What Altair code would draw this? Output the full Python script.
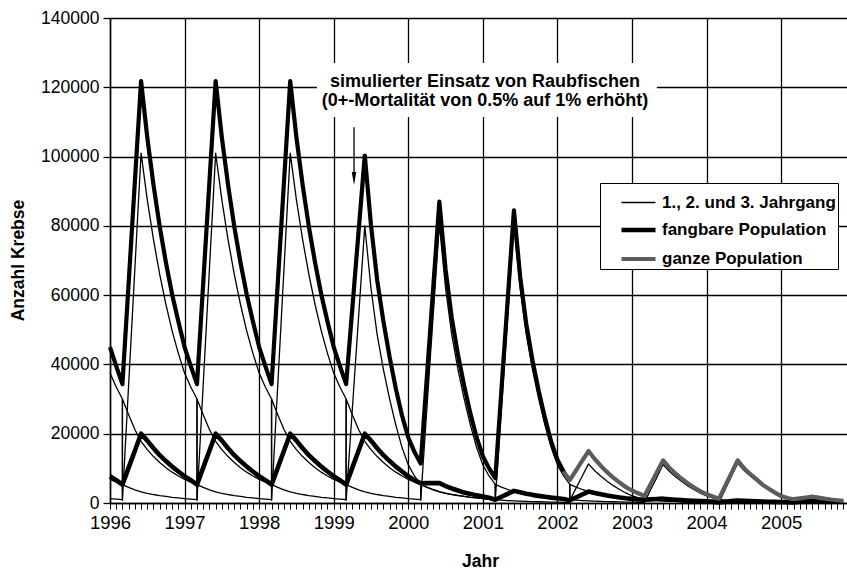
import altair as alt
import pandas as pd

FONT = "Liberation Sans"
SERIEN = ["1., 2. und 3. Jahrgang", "fangbare Population", "ganze Population"]

# Monatswerte Jan 1996 .. Nov 2005 (Index 0..118), im Maerz der Wert nach dem Jahrgangswechsel
jahrgang1 = [
    37500, 33500, 800, 34200, 67600, 101000, 87500, 76000, 66000, 57300, 49700, 43200,   # 1996
    37500, 33500, 800, 34200, 67600, 101000, 87500, 76000, 66000, 57300, 49700, 43200,   # 1997
    37500, 33500, 800, 34200, 67600, 101000, 87500, 76000, 66000, 57300, 49700, 43200,   # 1998
    37500, 33500, 800, 27200, 53600, 80000, 62000, 48500, 38500, 30000, 22500, 16000,    # 1999
    11000, 7800, 800, 27500, 54000, 80500, 62000, 48500, 38500, 30000, 22500, 16000,     # 2000
    11000, 7800, 800, 27500, 54000, 80500, 62000, 48500, 38500, 30000, 22500, 16000,     # 2001
    11000, 7800, 800, 4300, 7800, 11300, 9300, 7700, 6300, 5000, 3900, 2900,             # 2002
    2100, 1500, 100, 3800, 7400, 11100, 9150, 7550, 6200, 4950, 3850, 2850,              # 2003
    2050, 1450, 100, 3900, 7700, 11500, 9450, 7850, 6450, 5150, 4000, 3000,              # 2004
    2150, 1500, 50, 500, 950, 1400, 1150, 950, 780, 620, 480,                            # 2005
]
jahrgang1_maerz_vor = [30000, 30000, 30000, 30000, 5400, 5400, 5400, 1000, 950, 1000]

jahrgang2 = [
    6800, 6000, 30000, 25500, 21200, 17800, 15400, 13400, 11700, 10200, 8900, 7800,      # 1996
    6800, 6000, 30000, 25500, 21200, 17800, 15400, 13400, 11700, 10200, 8900, 7800,      # 1997
    6800, 6000, 30000, 25500, 21200, 17800, 15400, 13400, 11700, 10200, 8900, 7800,      # 1998
    6800, 6000, 30000, 25500, 21200, 17800, 15400, 13400, 11700, 10200, 8900, 7800,      # 1999
    6800, 6000, 5400, 4600, 3900, 3300, 2850, 2500, 2200, 1900, 1650, 1450,              # 2000
    1250, 1100, 5400, 4600, 3900, 3300, 2850, 2500, 2200, 1900, 1650, 1450,              # 2001
    1250, 1100, 5400, 4600, 3900, 3300, 2850, 2500, 2200, 1900, 1650, 1450,              # 2002
    1250, 1100, 1000, 860, 740, 640, 550, 470, 410, 350, 300, 260,                       # 2003
    225, 195, 950, 820, 710, 620, 540, 470, 410, 360, 310, 270,                          # 2004
    235, 205, 1000, 860, 740, 650, 560, 480, 420, 360, 310,                              # 2005
]
jahrgang2_maerz_vor = [5300, 5300, 5300, 5300, 5300, 950, 950, 950, 170, 180]

jahrgang3 = [
    1250, 1100, 5300, 4500, 3800, 3200, 2800, 2450, 2150, 1900, 1650, 1450,              # 1996
    1250, 1100, 5300, 4500, 3800, 3200, 2800, 2450, 2150, 1900, 1650, 1450,              # 1997
    1250, 1100, 5300, 4500, 3800, 3200, 2800, 2450, 2150, 1900, 1650, 1450,              # 1998
    1250, 1100, 5300, 4500, 3800, 3200, 2800, 2450, 2150, 1900, 1650, 1450,              # 1999
    1250, 1100, 5300, 4500, 3800, 3200, 2800, 2450, 2150, 1900, 1650, 1450,              # 2000
    1250, 1100, 950, 820, 710, 620, 540, 470, 410, 360, 310, 270,                        # 2001
    235, 205, 950, 820, 710, 620, 540, 470, 410, 360, 310, 270,                          # 2002
    235, 205, 950, 820, 710, 620, 540, 470, 410, 360, 310, 270,                          # 2003
    235, 205, 170, 150, 130, 110, 95, 80, 70, 60, 52, 45,                                # 2004
    40, 35, 180, 155, 135, 120, 100, 88, 76, 66, 57,                                     # 2005
]
jahrgang3_maerz_vor = [950, 950, 950, 950, 950, 950, 180, 180, 180, 30]

ganze = [
    45000, 39500, 34300, 63500, 92700, 121800, 105500, 91800, 79800, 69400, 60200, 52400,  # 1996
    45000, 39500, 34300, 63500, 92700, 121800, 105500, 91800, 79800, 69400, 60200, 52400,  # 1997
    45000, 39500, 34300, 63500, 92700, 121800, 105500, 91800, 79800, 69400, 60200, 52400,  # 1998
    45000, 39500, 34300, 56300, 78300, 100300, 80200, 64300, 52400, 42100, 33000, 25200,   # 1999
    18900, 14700, 11400, 36600, 61800, 87000, 67500, 53400, 42800, 33800, 25800, 18900,    # 2000
    13500, 10000, 7150, 32900, 58700, 84500, 65400, 51500, 41100, 32300, 24500, 17700,     # 2001
    12500, 9100, 6600, 9400, 12200, 15000, 12700, 10700, 8900, 7300, 5900, 4600,           # 2002
    3600, 2800, 2050, 5450, 8900, 12300, 10200, 8500, 7000, 5650, 4450, 3400,              # 2003
    2500, 1850, 1250, 4900, 8600, 12300, 10100, 8400, 6900, 5300, 4100, 3000,              # 2004
    2000, 1450, 1100, 1350, 1600, 1850, 1550, 1250, 1000, 800, 600,                        # 2005
]

fangbare = [
    7700, 6600, 5300, 10200, 15100, 20000, 18000, 15800, 13800, 12100, 10500, 9100,      # 1996
    7700, 6600, 5300, 10200, 15100, 20000, 18000, 15800, 13800, 12100, 10500, 9100,      # 1997
    7700, 6600, 5300, 10200, 15100, 20000, 18000, 15800, 13800, 12100, 10500, 9100,      # 1998
    7700, 6600, 5300, 10200, 15100, 20000, 18000, 15800, 13800, 12100, 10500, 9100,      # 1999
    7700, 6600, 5700, 5750, 5750, 5750, 4900, 4200, 3600, 3000, 2600, 2200,              # 2000
    1900, 1500, 950, 1800, 2650, 3500, 3100, 2700, 2350, 2050, 1800, 1550,               # 2001
    1350, 1150, 800, 1600, 2450, 3300, 2900, 2500, 2150, 1850, 1600, 1350,               # 2002
    1200, 1050, 950, 1050, 1150, 1250, 1090, 940, 820, 710, 610, 530,                    # 2003
    460, 400, 170, 350, 550, 730, 635, 550, 480, 420, 360, 315,                          # 2004
    275, 240, 180, 350, 550, 770, 670, 580, 500, 430, 370,                               # 2005
]

# ganze Population: bis Feb 2002 schwarz gedruckt, danach grau
GRAU_AB = 73

annotation_zeilen = ["simulierter Einsatz von Raubfischen", "(0+-Mortalität von 0.5% auf 1% erhöht)"]


def zeilen(werte, serie, linie, maerz_vor=None, von=0, bis=None):
    out = []
    for m, v in enumerate(werte):
        if m < von or (bis is not None and m > bis):
            continue
        if maerz_vor is not None and m % 12 == 2:
            out.append({"t": m, "wert": maerz_vor[m // 12], "serie": serie, "linie": linie, "ord": 2 * m})
        out.append({"t": m, "wert": v, "serie": serie, "linie": linie, "ord": 2 * m + 1})
    return out


rows = []
rows += zeilen(jahrgang1, SERIEN[0], "j1", jahrgang1_maerz_vor)
rows += zeilen(jahrgang2, SERIEN[0], "j2", jahrgang2_maerz_vor)
rows += zeilen(jahrgang3, SERIEN[0], "j3", jahrgang3_maerz_vor)
rows += zeilen(fangbare, SERIEN[1], "fang")
rows += zeilen(ganze, SERIEN[2], "ganz", von=GRAU_AB)
df = pd.DataFrame(rows)
df_schwarz = pd.DataFrame(zeilen(ganze, SERIEN[2], "ganz_s", bis=GRAU_AB))

x_achse = alt.Axis(
    values=list(range(0, 119)), tickCount=200,
    labelExpr="datum.value % 12 === 0 ? '' + (1996 + datum.value / 12) : ''",
    labelOverlap=False, labelFlush=False,
    labelFont=FONT, labelFontSize=18.5, labelColor="black", labelPadding=4,
    tickSize=6, tickColor="black", tickWidth=1,
    domainColor="black", domainWidth=1.5,
    grid=True, gridColor="black", gridWidth=1.3,
    gridOpacity={"condition": {"test": "datum.value % 12 === 0", "value": 1}, "value": 0},
    title="Jahr", titleFont=FONT, titleFontSize=17.5, titleFontWeight="bold", titleColor="black",
    titleX=370, titleY=58, titleAlign="center", titleBaseline="middle",
)
y_achse = alt.Axis(
    values=[0, 20000, 40000, 60000, 80000, 100000, 120000, 140000], format="d",
    labelFont=FONT, labelFontSize=17.5, labelColor="black", labelPadding=4,
    tickSize=7, tickColor="black", tickWidth=1.3,
    domainColor="black", domainWidth=1.5,
    grid=True, gridColor="black", gridWidth=1.3,
    title="Anzahl Krebse", titleFont=FONT, titleFontSize=17.5, titleFontWeight="bold", titleColor="black",
    titleAngle=270, titleX=-92, titleY=242, titleAlign="center", titleBaseline="middle",
)

leg = alt.Legend(
    title=None, orient="none", legendX=490, legendY=165, padding=1.5,
    strokeColor="black", fillColor="white", symbolType="stroke", symbolSize=1156,
    symbolOffset=17.5, labelFont=FONT, labelFontSize=17, labelFontWeight="bold",
    labelColor="black", labelOffset=4, rowPadding=0, labelLimit=400,
)

x_enc = alt.X("t:Q", scale=alt.Scale(domain=[0, 118.6], nice=False, zero=False), axis=x_achse)
y_enc = alt.Y("wert:Q", scale=alt.Scale(domain=[0, 140000], nice=False), axis=y_achse)

# weisser Hintergrund der Beschriftung
box = alt.Chart(pd.DataFrame([{"t": 33.3, "t2": 88.0, "wert": 111400, "wert2": 127000}])).mark_rect(
    fill="white", stroke=None
).encode(x="t:Q", x2="t2", y="wert:Q", y2="wert2")

linien = alt.Chart(df).mark_line(strokeJoin="round", strokeCap="butt").encode(
    x=x_enc, y=y_enc,
    color=alt.Color("serie:N", scale=alt.Scale(domain=SERIEN, range=["black", "black", "#5c5c5c"]), legend=leg),
    strokeWidth=alt.StrokeWidth("serie:N", scale=alt.Scale(type="ordinal", domain=SERIEN, range=[1.3, 4.6, 4.2]), legend=leg),
    detail="linie:N",
    order="ord:Q",
)

schwarz = alt.Chart(df_schwarz).mark_line(color="black", strokeWidth=4.2, strokeJoin="round").encode(
    x="t:Q", y="wert:Q", order="ord:Q"
)

text_df = pd.DataFrame([
    {"t": 60.35, "wert": 121500, "txt": annotation_zeilen[0]},
    {"t": 60.35, "wert": 116000, "txt": annotation_zeilen[1]},
])
text = alt.Chart(text_df).mark_text(
    font=FONT, fontSize=18, fontWeight="bold", color="black", align="center", baseline="middle"
).encode(x="t:Q", y="wert:Q", text="txt:N")

pfeil = alt.Chart(pd.DataFrame([{"t": 39.27, "wert": 108500, "wert2": 95500}])).mark_rule(
    color="black", strokeWidth=1.3
).encode(x="t:Q", y="wert:Q", y2="wert2")

spitze = alt.Chart(pd.DataFrame([{"t": 39.27, "wert": 93700}])).mark_point(
    shape="M-0.35,-1L0.35,-1L0,1Z", filled=True, color="black", size=169, opacity=1
).encode(x="t:Q", y="wert:Q")

chart = alt.layer(box, linien, schwarz, text, pfeil, spitze).properties(
    width=737, height=485,
    autosize=alt.AutoSizeParams(type="none"),
    padding={"left": 110, "top": 18, "right": 0, "bottom": 68},
    background="white",
).configure_view(stroke=None)

chart.save("out.html", embed_options={"renderer": "svg", "actions": False})
